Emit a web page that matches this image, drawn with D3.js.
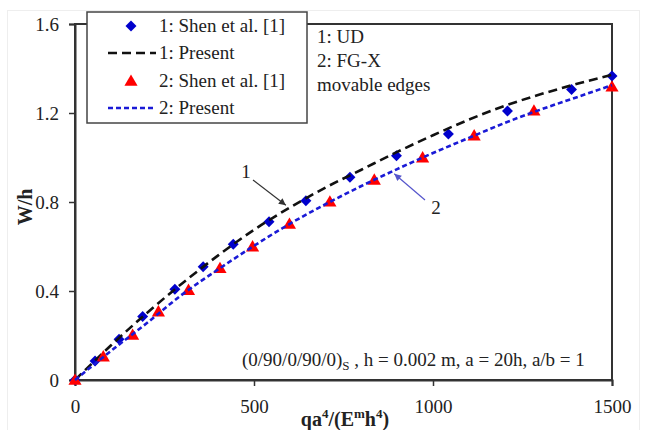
<!DOCTYPE html>
<html><head><meta charset="utf-8">
<script src="https://cdn.jsdelivr.net/npm/d3@7"></script>
<style>body{margin:0;background:#fff}svg{display:block}
svg text{font-family:"Liberation Serif","Times New Roman",Times,serif !important;}
</style>
</head><body>
<script>
// Data
const shen1X = [0, 56, 123, 189, 279, 358, 442, 542, 645, 768, 898, 1043, 1208, 1387, 1500];
const shen1Y = [0, 0.085, 0.183, 0.285, 0.408, 0.509, 0.61, 0.711, 0.806, 0.911, 1.008, 1.106, 1.209, 1.306, 1.366];
const shen2X = [0, 79, 161, 233, 317, 405, 496, 599, 712, 836, 971, 1115, 1282, 1500];
const shen2Y = [0, 0.105, 0.202, 0.307, 0.404, 0.502, 0.599, 0.701, 0.801, 0.899, 0.999, 1.098, 1.21, 1.318];
const presentX = [0, 100, 200, 300, 400, 500, 600, 700, 800, 900, 1000, 1100, 1200, 1300, 1400, 1500];
const present1Y = [0, 0.155, 0.30, 0.435, 0.56, 0.675, 0.775, 0.865, 0.945, 1.025, 1.10, 1.17, 1.232, 1.284, 1.33, 1.372];
const present2Y = [0, 0.13, 0.255, 0.385, 0.497, 0.603, 0.702, 0.790, 0.872, 0.948, 1.02, 1.088, 1.155, 1.215, 1.27, 1.325];
const xTicks = [0, 500, 1000, 1500];
const yTicks = [0, 0.4, 0.8, 1.2, 1.6];
const legendLabels = ["1: Shen et al. [1]", "1: Present", "2: Shen et al. [1]", "2: Present"];
const infoLines = ["1: UD", "2: FG-X", "movable edges"];

const W = 648, H = 430;
const serif = "Liberation Serif";
const FS = 19;
const svg = d3.select("body").append("svg").attr("width", W).attr("height", H);

// faint outer border
svg.append("rect").attr("x", 7.5).attr("y", 10.5).attr("width", 632).attr("height", 430).attr("fill", "none").attr("stroke", "#eeeeee");

const x = d3.scaleLinear().domain([0, 1500]).range([75, 612]);
const y = d3.scaleLinear().domain([0, 1.6]).range([380, 24]);

// plot frame
svg.append("rect").attr("x", x(0)).attr("y", y(1.6)).attr("width", x(1500) - x(0)).attr("height", y(0) - y(1.6))
  .attr("fill", "none").attr("stroke", "#333").attr("stroke-width", 2);

const yAxis = svg.append("g").attr("transform", `translate(${x(0)},0)`)
  .call(d3.axisLeft(y).tickValues(yTicks).tickSize(6).tickPadding(10).tickFormat(d => d === 0 ? "0" : d3.format(".1f")(d)));
const xAxis = svg.append("g").attr("transform", `translate(0,${y(0)})`)
  .call(d3.axisBottom(x).tickValues(xTicks).tickSize(6).tickPadding(14).tickFormat(d3.format("d")));
[xAxis, yAxis].forEach(g => {
  g.attr("font-family", serif);
  g.select(".domain").attr("stroke", "#333").attr("stroke-width", 2);
  g.selectAll(".tick line").attr("stroke", "#333").attr("stroke-width", 1.5);
  g.selectAll(".tick text").attr("font-family", serif).attr("font-size", FS).attr("fill", "#222");
});

// axis titles
svg.append("text").attr("x", 345).attr("y", 426).attr("text-anchor", "middle")
  .attr("font-family", serif).attr("font-size", 20).attr("font-weight", "bold").attr("fill", "#222")
  .html('qa<tspan dy="-8" font-size="13">4</tspan><tspan dy="8">/(E</tspan><tspan dy="-8" font-size="13">m</tspan><tspan dy="8">h</tspan><tspan dy="-8" font-size="13">4</tspan><tspan dy="8">)</tspan>');
svg.append("text").attr("transform", "translate(32,207) rotate(-90)").attr("text-anchor", "middle")
  .attr("font-family", serif).attr("font-size", 20).attr("font-weight", "bold").attr("fill", "#222").text("W/h");

// lines
const line = d3.line().curve(d3.curveMonotoneX);
const diamond = d3.symbol().type(d3.symbolSquare).size(60);
const tri = d3.symbol().type(d3.symbolTriangle).size(75);

svg.append("g").selectAll("path").data(shen1X).join("path")
  .attr("transform", (d, i) => `translate(${x(d)},${y(shen1Y[i])}) rotate(45)`).attr("d", diamond).attr("fill", "#0000cc");
svg.append("path").attr("d", line(presentX.map((d, i) => [x(d), y(present1Y[i])])))
  .attr("fill", "none").attr("stroke", "#111").attr("stroke-width", 2.6).attr("stroke-dasharray", "9,5");
svg.append("g").selectAll("path").data(shen2X).join("path")
  .attr("transform", (d, i) => `translate(${x(d)},${y(shen2Y[i]) + 1})`).attr("d", tri).attr("fill", "#ff0000");
svg.append("path").attr("d", line(presentX.map((d, i) => [x(d), y(present2Y[i])])))
  .attr("fill", "none").attr("stroke", "#1a1ad6").attr("stroke-width", 2.6).attr("stroke-dasharray", "5,3");

// annotations with arrows
const defs = svg.append("defs");
[["arrK", "#333"], ["arrB", "#5555cc"]].forEach(([id, c]) => {
  defs.append("marker").attr("id", id).attr("viewBox", "0 0 10 10").attr("refX", 10).attr("refY", 5)
    .attr("markerWidth", 9).attr("markerHeight", 7).attr("markerUnits", "userSpaceOnUse").attr("orient", "auto")
    .append("path").attr("d", "M0,0L10,5L0,10z").attr("fill", c);
});
svg.append("text").attr("x", 246).attr("y", 178).attr("text-anchor", "middle").attr("font-family", serif).attr("font-size", FS).attr("fill", "#222").text("1");
svg.append("line").attr("x1", 253).attr("y1", 180).attr("x2", x(589)).attr("y2", y(0.776) - 2)
  .attr("stroke", "#333").attr("stroke-width", 1.2).attr("marker-end", "url(#arrK)");
svg.append("text").attr("x", 436).attr("y", 214).attr("text-anchor", "middle").attr("font-family", serif).attr("font-size", FS).attr("fill", "#222").text("2");
svg.append("line").attr("x1", 425).attr("y1", 200).attr("x2", x(889) + 1).attr("y2", y(0.936) + 2)
  .attr("stroke", "#5555cc").attr("stroke-width", 1.2).attr("marker-end", "url(#arrB)");

// info text
infoLines.forEach((t, i) => {
  svg.append("text").attr("x", 317).attr("y", 43 + i * 24).attr("font-family", serif).attr("font-size", FS).attr("fill", "#222").text(t);
});
svg.append("text").attr("x", 242).attr("y", 366).attr("font-family", serif).attr("font-size", FS).attr("fill", "#222")
  .html('(0/90/0/90/0)<tspan dy="4" font-size="13">S</tspan><tspan dy="-4"> , h = 0.002 m, a = 20h, a/b = 1</tspan>');

// legend
const lg = svg.append("g");
lg.append("rect").attr("x", 87).attr("y", 12).attr("width", 220).attr("height", 111).attr("fill", "#fff").attr("stroke", "#444").attr("stroke-width", 1.5);
const rowY = [26, 53, 81, 108];
lg.append("path").attr("transform", `translate(131,${rowY[0]}) rotate(45)`).attr("d", diamond).attr("fill", "#0000cc");
lg.append("line").attr("x1", 108).attr("x2", 156).attr("y1", rowY[1]).attr("y2", rowY[1]).attr("stroke", "#111").attr("stroke-width", 2.6).attr("stroke-dasharray", "9,5");
lg.append("path").attr("transform", `translate(131,${rowY[2] + 1})`).attr("d", tri).attr("fill", "#ff0000");
lg.append("line").attr("x1", 108).attr("x2", 156).attr("y1", rowY[3]).attr("y2", rowY[3]).attr("stroke", "#1a1ad6").attr("stroke-width", 2.6).attr("stroke-dasharray", "5,3");
legendLabels.forEach((t, i) => {
  lg.append("text").attr("x", 159).attr("y", rowY[i] + 6).attr("font-family", serif).attr("font-size", FS).attr("fill", "#222").text(t);
});
</script>
</body></html>
